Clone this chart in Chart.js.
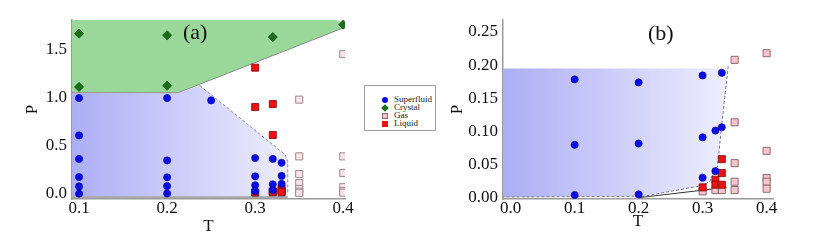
<!DOCTYPE html>
<html>
<head>
<meta charset="utf-8">
<script src="https://cdn.jsdelivr.net/npm/chart.js@4/dist/chart.umd.min.js"></script>
<style>
  body { margin: 0; background: #fff; width: 830px; height: 240px; overflow: hidden; position: relative; font-family: "Liberation Serif", serif; }
  canvas { position: absolute; top: 0; }
  #chartA { left: 0; }
  #chartB { left: 440px; }
  .panel-label { position: absolute; font-size: 22px; line-height: 22px; color: #111; }
  #legend { position: absolute; left: 364px; top: 85px; width: 72px; height: 46px; border: 1px solid #999; box-sizing: border-box; font-size: 9px; color: #222; }
  #legend div { position: absolute; left: 29px; white-space: nowrap; line-height: 9px; color: #222; }
  #legend span { position: absolute; left: -12px; top: 1.5px; width: 6px; height: 6px; box-sizing: border-box; }
</style>
</head>
<body>
<canvas id="chartA" width="360" height="240"></canvas>
<canvas id="chartB" width="390" height="240"></canvas>
<div class="panel-label" style="left:183px; top:21px;">(a)</div>
<div class="panel-label" style="left:648px; top:22px;">(b)</div>
<div id="legend">
  <div style="top:9px;"><span style="background:#0a0ae8;border-radius:50%;"></span>Superfluid</div>
  <div style="top:17px;"><span style="background:#1a6e1a;transform:rotate(45deg) scale(0.9);"></span>Crystal</div>
  <div style="top:25px;"><span style="background:#f8c4cc;border:1px solid #8a6a70;"></span>Gas</div>
  <div style="top:33px;"><span style="background:#ee1111;"></span>Liquid</div>
</div>
<script>
// ---- panel (a) data: [T, P] ----
const superfluidA = [[0.1,1.0],[0.1,0.61],[0.1,0.365],[0.1,0.177],[0.1,0.079],[0.1,0.003],
  [0.2,1.0],[0.2,0.35],[0.2,0.174],[0.2,0.082],[0.2,0.005],[0.25,0.975],
  [0.3,0.375],[0.3,0.184],[0.3,0.091],[0.3,0.03],[0.32,0.365],[0.32,0.101],[0.32,0.04],
  [0.33,0.325],[0.33,0.188],[0.33,0.106]];
const crystalA = [[0.1,1.67],[0.1,1.115],[0.2,1.653],[0.2,1.128],[0.32,1.635],[0.4,1.764]];
const gasA = [[0.3,0.010],[0.32,0.012],[0.33,0.012],[0.35,0.983],[0.35,0.392],[0.35,0.208],[0.35,0.114],
  [0.35,0.0525],[0.35,0.0245],[0.35,0.012],[0.4,1.458],[0.4,0.392],[0.4,0.219],[0.4,0.071],[0.4,0.030],[0.4,0.014]];
const liquidA = [[0.3,1.316],[0.3,0.906],[0.32,0.9375],[0.32,0.615],[0.3,0.016],[0.32,0.0275],[0.32,0.020],
  [0.33,0.0585],[0.33,0.0375],[0.33,0.020]];

// phase region outlines (a)
const crystalRegionA = [[0.09,1.055],[0.2125,1.055],[0.4,1.73],[0.403,1.77],[0.39,1.82],[0.09,1.82]];
const superRegionA = [[0.09,1.05],[0.2125,1.05],[0.237,1.13],[0.334,0.41],[0.337,0.34],[0.337,-0.03],[0.09,-0.03]];
const crystalEdgeA = [[0.09,1.055],[0.2125,1.055],[0.4,1.73]];
const superEdgeA = [[0.237,1.13],[0.334,0.41],[0.337,0.34],[0.337,0.0]];
const bottomEdgeA = [[0.09,-0.035],[0.337,-0.035]];

// ---- panel (b) data ----
const superfluidB = [[0.1,0.1785],[0.1,0.080],[0.1,0.0045],[0.2,0.174],[0.2,0.082],[0.2,0.0055],
  [0.3,0.1845],[0.3,0.0915],[0.3,0.0305],[0.32,0.1015],[0.32,0.0405],[0.33,0.1885],[0.33,0.1065]];
const gasB = [[0.3,0.010],[0.32,0.012],[0.33,0.012],[0.35,0.208],[0.35,0.114],[0.35,0.0525],[0.35,0.0245],[0.35,0.012],
  [0.4,0.218],[0.4,0.071],[0.4,0.030],[0.4,0.0245],[0.4,0.014]];
const liquidB = [[0.3,0.016],[0.32,0.0275],[0.32,0.020],[0.33,0.0585],[0.33,0.0375],[0.33,0.020]];

const superRegionB = [[-0.013,0.195],[0.34,0.195],[0.3297,0.1085],[0.3234,0.0485],[0.311,0.0245],
  [0.298,0.0185],[0.207,0.0025],[-0.013,0.0015]];
const superEdgeB = [[0.34,0.1985],[0.3297,0.1085],[0.3234,0.0485],[0.311,0.0245],[0.298,0.0185],[0.207,0.0025],[-0.013,0.0015]];
const liquidGasLineB = [[0.2,0.0005],[0.3375,0.016]];

// ticks
const ticksAX = [0.1, 0.2, 0.3, 0.4];
const ticksAY = [0.0, 0.5, 1.0, 1.5];
const ticksBX = [0.0, 0.1, 0.2, 0.3, 0.4];
const ticksBY = [0.0, 0.05, 0.10, 0.15, 0.20, 0.25];

const pts = arr => arr.map(p => ({x: p[0], y: p[1]}));
const serif = "'Liberation Serif', 'Times New Roman', serif";

function blueGradient(rightT) {
    return function(ctx) {
        const chart = ctx.chart;
        const area = chart.chartArea;
        if (!area) return 'rgba(180,180,248,1)';
        const xr = chart.scales.x.getPixelForValue(rightT);
        const g = chart.ctx.createLinearGradient(area.left, 0, xr, 0);
        g.addColorStop(0, 'rgb(172,174,246)');
        g.addColorStop(1, 'rgb(238,238,253)');
        return g;
    };
}

function markers(data, kind) {
    const st = {
        super: { pointStyle: 'circle', pointRadius: 3.6, backgroundColor: '#0a0ae8', borderColor: '#00008a', borderWidth: 0.6 },
        crystal: { pointStyle: 'rectRot', pointRadius: 4.6, backgroundColor: '#1a6e1a', borderColor: '#0c400c', borderWidth: 0.6 },
        gas: { pointStyle: 'rect', pointRadius: 5, backgroundColor: '#f8c4cc', borderColor: '#8a6a70', borderWidth: 1 },
        gasLight: { pointStyle: 'rect', pointRadius: 5, backgroundColor: '#fbe2e7', borderColor: '#9a8a8e', borderWidth: 1 },
        liquid: { pointStyle: 'rect', pointRadius: 5, backgroundColor: '#ee1111', borderColor: '#7a0a0a', borderWidth: 0.8 }
    }[kind];
    return Object.assign({ data: pts(data), showLine: false }, st);
}

function region(data, color) {
    return { data: pts(data), showLine: true, fill: 'shape', backgroundColor: color, borderWidth: 0, pointRadius: 0 };
}

function edge(data, color, dash, width) {
    return { data: pts(data), showLine: true, fill: false, borderColor: color, borderWidth: width || 1, borderDash: dash || [], pointRadius: 0 };
}

function axes(xr, yr, xt, yt, xd, yd, yWidth, yTitlePad, xTitlePad) {
    const tickFont = { family: serif, size: 17 };
    const titleFont = { family: serif, size: 17 };
    return {
        x: {
            type: 'linear', min: xr[0], max: xr[1],
            afterBuildTicks: s => { s.ticks = xt.map(v => ({value: v})); },
            afterFit: s => { s.height = 41; },
            ticks: { font: tickFont, color: '#111', padding: -1, maxRotation: 0, callback: v => v.toFixed(xd) },
            grid: { display: false, drawTicks: false, tickLength: 0 },
            border: { display: true, color: '#999', width: 1.5 },
            title: { display: true, text: 'T', font: titleFont, color: '#111', padding: xTitlePad }
        },
        y: {
            type: 'linear', min: yr[0], max: yr[1],
            afterBuildTicks: s => { s.ticks = yt.map(v => ({value: v})); },
            afterFit: s => { s.width = yWidth; },
            ticks: { font: tickFont, color: '#111', padding: 5, callback: v => v.toFixed(yd) },
            grid: { display: false, drawTicks: false, tickLength: 0 },
            border: { display: true, color: '#999', width: 1.5 },
            title: { display: true, text: 'P', font: titleFont, color: '#111', padding: yTitlePad }
        }
    };
}

const baseOptions = (scales, pad) => ({
    responsive: false,
    animation: false,
    layout: { padding: pad },
    plugins: { legend: { display: false }, tooltip: { enabled: false } },
    scales: scales
});

new Chart(document.getElementById('chartA').getContext('2d'), {
    type: 'scatter',
    data: {
        datasets: [
            markers(superfluidA, 'super'),
            markers(crystalA, 'crystal'),
            markers(liquidA, 'liquid'),
            markers(gasA, 'gasLight'),
            edge(bottomEdgeA, '#a8a8a8', [], 2),
            edge(superEdgeA, '#8a8a8a', [3, 2], 1),
            edge(crystalEdgeA, '#8a8a8a', [], 1),
            region(superRegionA, blueGradient(0.34)),
            region(crystalRegionA, 'rgb(154,216,154)')
        ]
    },
    options: baseOptions(axes([0.092, 0.402], [-0.052, 1.8125], ticksAX, ticksAY, 1, 1, 72,
        {top: 22, bottom: 0}, {top: 0, bottom: 3}),
        { left: 0, right: 15, top: 20, bottom: 0 })
});

new Chart(document.getElementById('chartB').getContext('2d'), {
    type: 'scatter',
    data: {
        datasets: [
            markers(superfluidB, 'super'),
            markers(liquidB, 'liquid'),
            markers(gasB, 'gas'),
            edge(liquidGasLineB, '#333', [], 1),
            edge(superEdgeB, '#777', [3, 2], 1),
            region(superRegionB, blueGradient(0.34))
        ]
    },
    options: baseOptions(axes([-0.012, 0.41], [-0.0015, 0.268], ticksBX, ticksBY, 1, 2, 63,
        {top: 7, bottom: 0}, {top: 0, bottom: 8}),
        { left: 0, right: 57, top: 20, bottom: 0 })
});
</script>
</body>
</html>
